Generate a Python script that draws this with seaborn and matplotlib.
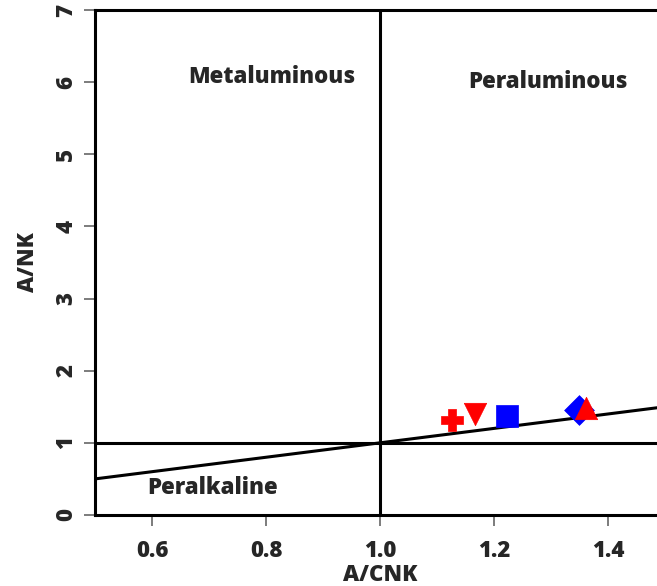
import matplotlib
matplotlib.use("Agg")
import matplotlib.pyplot as plt
import seaborn as sns
import pandas as pd

# data
samples = ["S1", "S2", "S3", "S4", "S5"]
acnk = [1.126, 1.167, 1.222, 1.349, 1.362]
anks = [1.31, 1.40, 1.37, 1.46, 1.48]
colors = ["#ff0000", "#ff0000", "#0000ff", "#0000ff", "#ff0000"]
markers = ["P", "v", "s", "D", "^"]
sizes = [250, 260, 230, 230, 260]

diag_x = [0.5, 1.5]
diag_y = [0.5, 1.5]

x_ticks = [0.6, 0.8, 1.0, 1.2, 1.4]
x_ticklabels = ["0.6", "0.8", "1.0", "1.2", "1.4"]
y_ticks = [0, 1, 2, 3, 4, 5, 6, 7]

region_labels = ["Metaluminous", "Peraluminous", "Peralkaline"]
region_x = [0.81, 1.295, 0.707]
region_y = [6.07, 6.0, 0.37]

sns.set_style("white")
plt.rcParams["font.family"] = ["Open Sans", "DejaVu Sans"]

fig = plt.figure(figsize=(6.57, 5.86), dpi=100)
ax = fig.add_axes([0.1446, 0.1212, 0.8676, 0.8618])

df = pd.DataFrame({"x": diag_x, "y": diag_y})
sns.lineplot(data=df, x="x", y="y", ax=ax, color="black", lw=2.2)
ax.axvline(1.0, color="black", lw=2.2)
ax.axhline(1.0, color="black", lw=2.2)

pts = pd.DataFrame({"x": acnk, "y": anks, "s": samples})
for i, row in pts.iterrows():
    sns.scatterplot(data=pts.iloc[[i]], x="x", y="y", ax=ax, marker=markers[i],
                    color=colors[i], s=sizes[i], edgecolor=colors[i], linewidth=0.5,
                    zorder=5, legend=False)

for t, x, y in zip(region_labels, region_x, region_y):
    ax.text(x, y, t, ha="center", va="center", fontsize=16, fontweight="heavy")

ax.set_xlim(0.5, 1.5)
ax.set_ylim(0, 7)
ax.set_xticks(x_ticks)
ax.set_xticklabels(x_ticklabels, fontsize=16, fontweight="heavy")
ax.set_yticks(y_ticks)
ax.set_yticklabels([str(v) for v in y_ticks], fontsize=16, fontweight="heavy",
                   rotation=90, va="center")
ax.tick_params(axis="both", direction="out", length=8, width=1.2, color="#666666",
               left=True, bottom=True)
ax.tick_params(axis="x", pad=9)
ax.tick_params(axis="y", pad=4)
ax.set_xlabel("A/CNK", fontsize=16, fontweight="heavy", labelpad=0)
ax.set_ylabel("A/NK", fontsize=16, fontweight="heavy", labelpad=10)
for sp in ax.spines.values():
    sp.set_linewidth(2.2)
    sp.set_color("black")

fig.savefig("out.png", dpi=100)
